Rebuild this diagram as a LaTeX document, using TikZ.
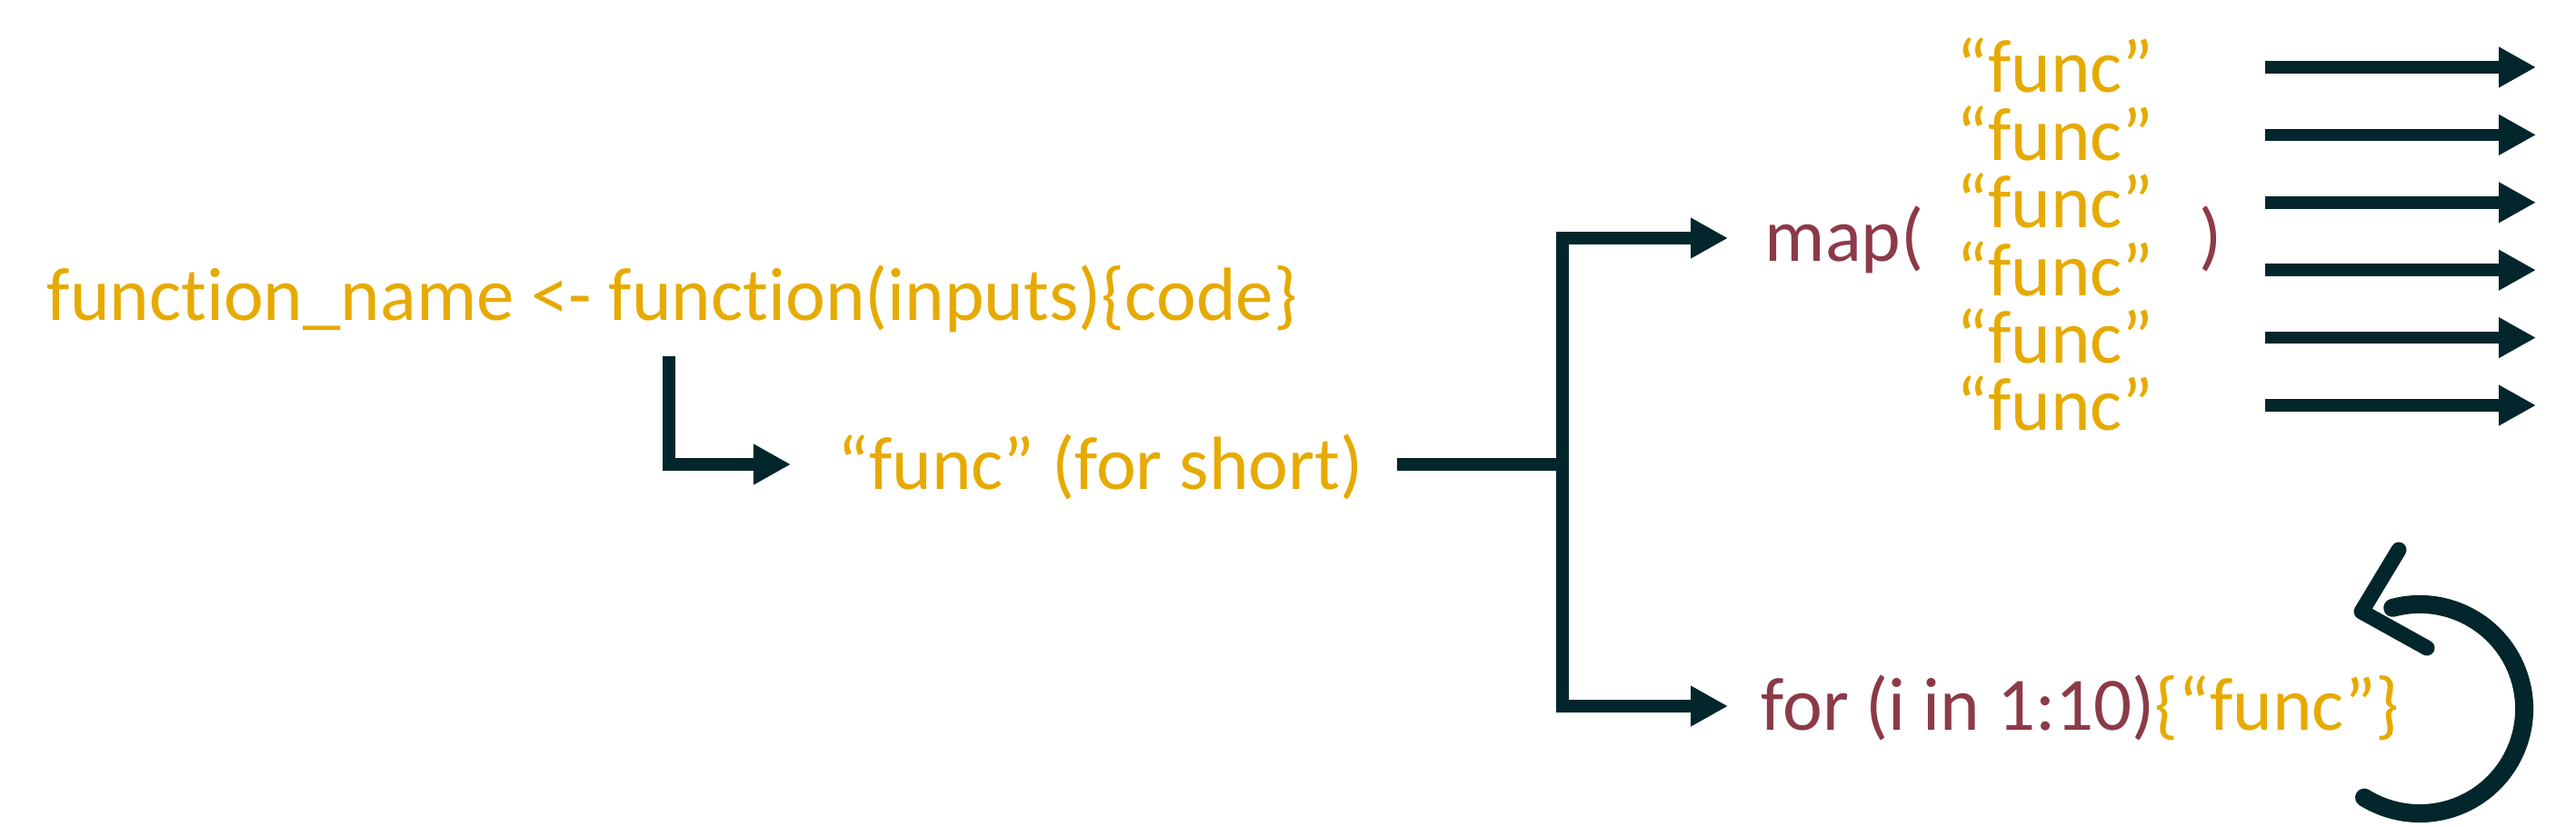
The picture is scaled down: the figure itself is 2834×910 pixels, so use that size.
\documentclass[tikz,border=0pt]{standalone}
\usepackage{fontspec}
\setmainfont{Carlito}[Ligatures={TeX,NoCommon}]
\usetikzlibrary{arrows.meta}
\definecolor{gold}{RGB}{230,170,0}
\definecolor{maroon}{RGB}{140,58,72}
\definecolor{ink}{RGB}{2,38,43}
\begin{document}
\begin{tikzpicture}[x=0.01cm,y=-0.01cm,
  txt/.style={font=\fontsize{23.6}{28}\selectfont, inner sep=0pt, anchor=base west},
  gtxt/.style={txt,text=gold},
  mtxt/.style={txt,text=maroon},
  bar/.style={draw=ink,line width=0.135cm},
  conn/.style={bar,-{Triangle[length=0.41cm,width=0.42cm]}},
  loopline/.style={draw=ink,line width=0.2cm,line cap=round},
  loophead/.style={draw=ink,line width=0.17cm,line cap=round,line join=round}
]
\useasboundingbox (0,0) rectangle (2834,910);
% texts
\node[gtxt] (fn) at (51,353) {function\_name <- function(inputs)\{code\}};
\node[gtxt] (short) at (921,538) {“func” (for short)};
\node[mtxt] (map) at (1941,288) {map(};
\node[mtxt] (close) at (2419,288) {)};
\foreach \i in {0,...,5}{
  \node[gtxt] (f\i) at (2152,102+74.4*\i) {“func”};
  \draw[conn] ([shift={(340,-28)}]f\i.base west) -- ++(298,0);
}
\node[mtxt] (for) at (1937,803) {for (i in 1:10)\textcolor{gold}{\{“func”\}}};
% connectors
\coordinate (c1) at (736,392);
\coordinate (t1) at (870,511);
\draw[conn] (c1) |- (t1);
\coordinate (s1) at (1537,511);
\coordinate (j) at (1719,511);
\coordinate (t2) at (1901,262);
\coordinate (t3) at (1901,777);
\draw[bar] (s1) -- (j);
\draw[conn] (j) |- (t2);
\draw[conn] (j) |- (t3);
% loop arrow
\coordinate (cc) at (2662,780);
\draw[loopline] ([shift={(105:1.15cm)}]cc) arc[start angle=105,end angle=-122,radius=1.15cm];
\coordinate (h1) at (2639,605);
\coordinate (h0) at (2598,673);
\coordinate (h2) at (2670,713);
\draw[loophead] (h1) -- (h0) -- (h2);
\end{tikzpicture}
\end{document}
